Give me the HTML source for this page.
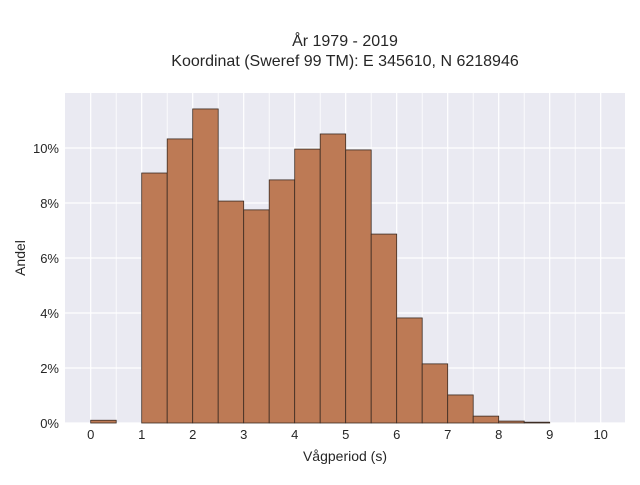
<!DOCTYPE html>
<html><head><meta charset="utf-8"><style>
body{margin:0;background:#fff;font-family:"Liberation Sans",sans-serif;}
svg text{font-family:"Liberation Sans",sans-serif;fill:#262626;}
</style></head><body>
<svg id="chart" width="640" height="480" xmlns="http://www.w3.org/2000/svg">
<text x="345" y="46" text-anchor="middle" font-size="16">År 1979 - 2019</text>
<text x="345" y="66" text-anchor="middle" font-size="16">Koordinat (Sweref 99 TM): E 345610, N 6218946</text>
<rect x="65" y="93" width="560" height="330" fill="#eaeaf2"/>
<g id="grid"></g><g id="bars"></g><g id="axes"></g>
<text x="345" y="461" text-anchor="middle" font-size="14">Vågperiod (s)</text>
<text transform="translate(25,258) rotate(-90)" text-anchor="middle" font-size="14">Andel</text>
</svg>
<script>
const binStarts=[0,0.5,1,1.5,2,2.5,3,3.5,4,4.5,5,5.5,6,6.5,7,7.5,8,8.5,9,9.5];
const shares=[0.1,0,9.09,10.33,11.42,8.07,7.75,8.84,9.96,10.51,9.93,6.87,3.82,2.15,1.02,0.25,0.07,0.03,0,0];
const xTicks=[0,1,2,3,4,5,6,7,8,9,10];
const yTicks=[0,2,4,6,8,10];
const binWidth=0.5;
const NS="http://www.w3.org/2000/svg";
const X=v=>90.7+v*51;
const Y=v=>423-v*27.5;
const grid=document.getElementById('grid'),bars=document.getElementById('bars'),axes=document.getElementById('axes');
function mk(tag,attrs,parent){const e=document.createElementNS(NS,tag);for(const k in attrs)e.setAttribute(k,attrs[k]);parent.appendChild(e);return e;}
for(let i=0;i<=20;i++){const v=i*0.5;const l=mk('line',{x1:X(v),x2:X(v),y1:93,y2:423,stroke:'#fff','stroke-width':i%2?0.8:1.2},grid);

}
yTicks.forEach(v=>{const l=mk('line',{x1:65,x2:625,y1:Y(v),y2:Y(v),stroke:'#fff','stroke-width':1.2},grid);


const t=mk('text',{x:59,y:Y(v)+5,'text-anchor':'end','font-size':13},axes);t.textContent=v+'%';

});
xTicks.forEach(v=>{const t=mk('text',{x:X(v),y:439,'text-anchor':'middle','font-size':13},axes);t.textContent=v;

});
binStarts.forEach((s,i)=>{const h=shares[i];if(h<=0)return;
const r=mk('rect',{x:X(s),y:Y(h),width:X(s+binWidth)-X(s),height:Y(0)-Y(h),fill:'#bd7a55',stroke:'#3a2a22','stroke-width':0.8},bars);

});
</script>
</body></html>
